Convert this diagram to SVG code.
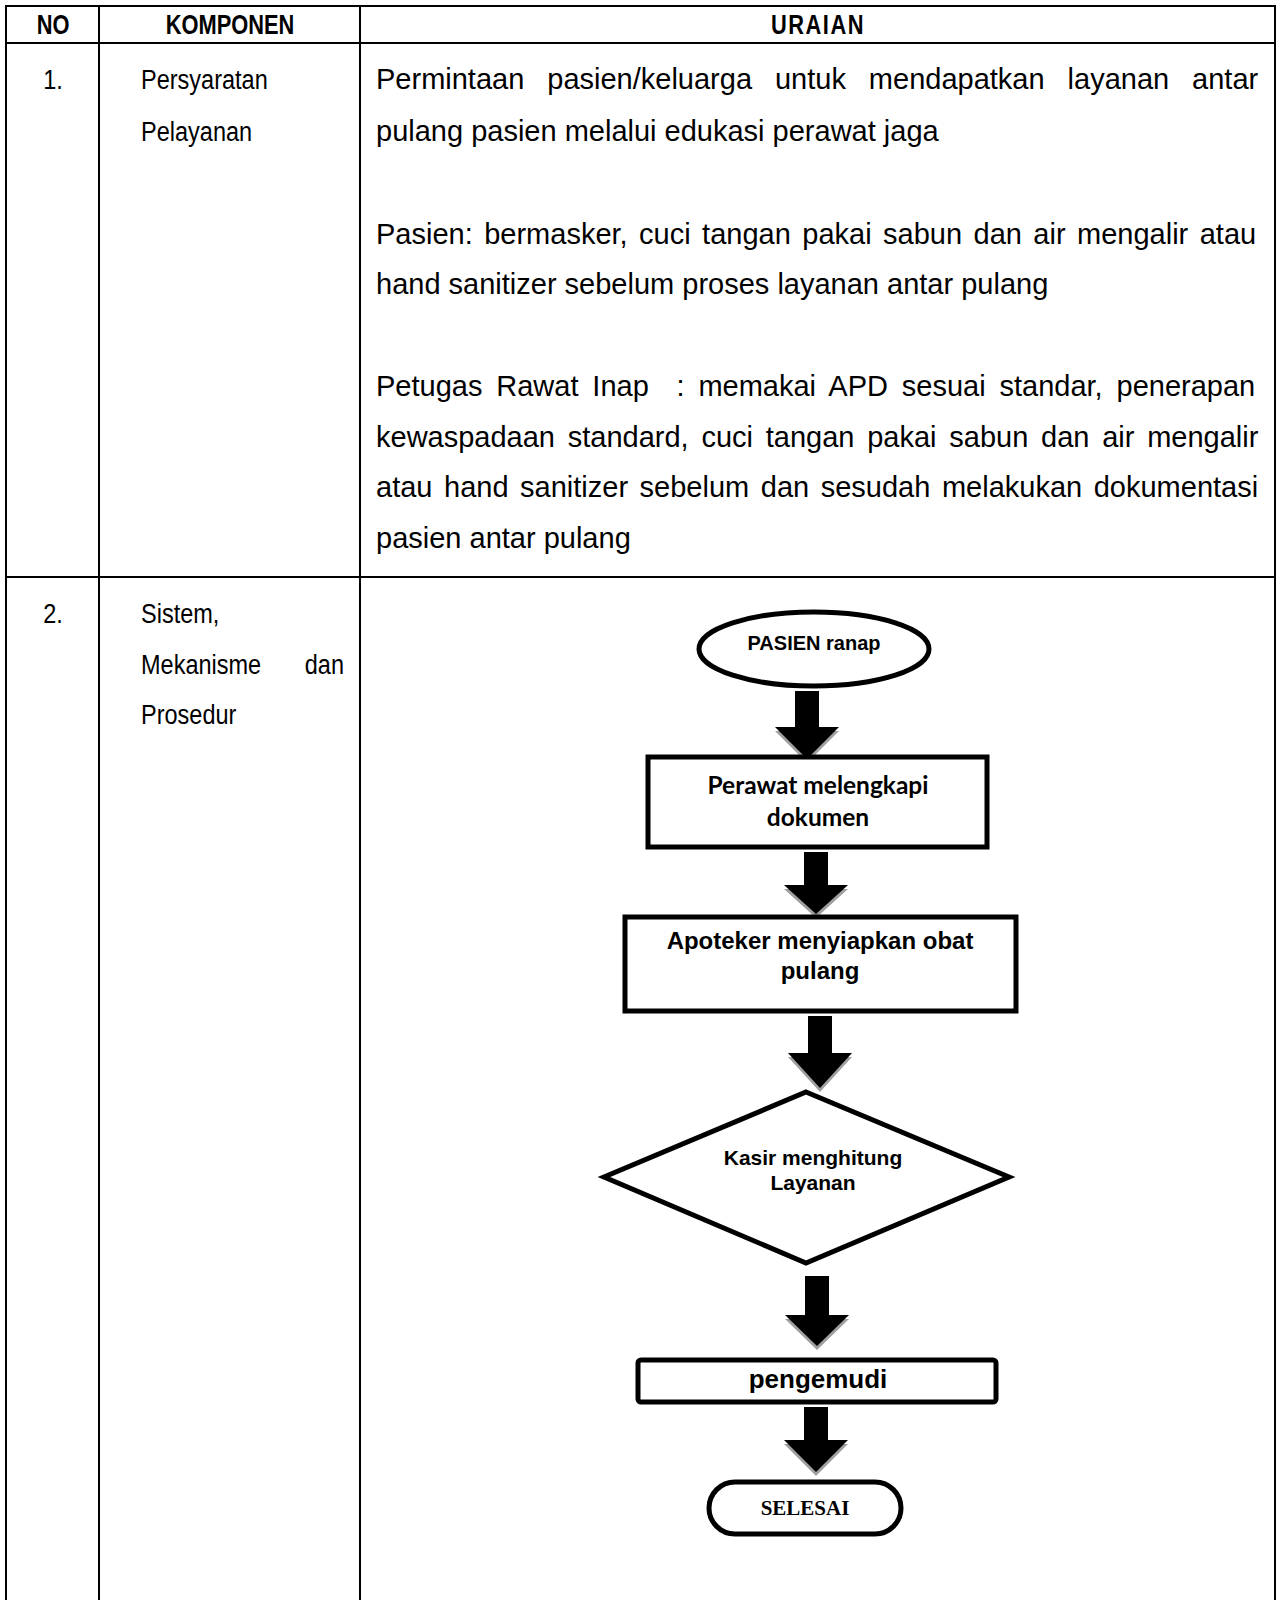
<svg xmlns="http://www.w3.org/2000/svg" width="1278" height="1600" viewBox="0 0 1278 1600">
  <style>
    .grid { stroke: #000; stroke-width: 2; fill: none; }
    .hdr { font-family: "Liberation Sans", Arial, sans-serif; font-weight: bold; font-size: 28px; fill: #000; text-anchor: middle; }
    .cell { font-family: "Liberation Sans", Arial, sans-serif; font-size: 28px; fill: #000; }
    .body { font-family: "Liberation Sans", Arial, sans-serif; font-size: 29px; fill: #000; }
    .shape { fill: #fff; stroke: #000; stroke-width: 5; }
    .lbl { font-family: "Liberation Sans", Arial, sans-serif; font-weight: bold; fill: #000; text-anchor: middle; }
    .lbl-c { font-family: Lato, "Liberation Sans", sans-serif; font-weight: bold; fill: #000; text-anchor: middle; }
    .lbl-s { font-family: "Liberation Serif", "Times New Roman", serif; font-weight: bold; fill: #000; text-anchor: middle; }
    .arrow { fill: #000; }
    .arrow-shadow { fill: #a0a0a0; }
  </style>

  <rect width="1278" height="1600" fill="#fff"/>

  <!-- table grid -->
  <g id="table">
    <line class="grid" x1="6" y1="6" x2="1275" y2="6"/>
    <line class="grid" x1="6" y1="43" x2="1275" y2="43"/>
    <line class="grid" x1="6" y1="577" x2="1275" y2="577"/>
    <line class="grid" x1="6" y1="5" x2="6" y2="1600"/>
    <line class="grid" x1="99" y1="6" x2="99" y2="1600"/>
    <line class="grid" x1="360" y1="6" x2="360" y2="1600"/>
    <line class="grid" x1="1275" y1="5" x2="1275" y2="1600"/>
  </g>

  <!-- header row (narrow bold face) -->
  <g id="header">
    <text class="hdr" transform="translate(53 34) scale(0.78 1)">NO</text>
    <text class="hdr" transform="translate(230 34) scale(0.78 1)">KOMPONEN</text>
    <text class="hdr" letter-spacing="2" transform="translate(818 34) scale(0.78 1)">URAIAN</text>
  </g>

  <!-- row 1 -->
  <g id="row1">
    <text class="cell" text-anchor="middle" transform="translate(53 89) scale(0.84 1)">1.</text>
    <text class="cell" transform="translate(141 89) scale(0.84 1)">Persyaratan</text>
    <text class="cell" transform="translate(141 141) scale(0.84 1)">Pelayanan</text>

    <text class="body" x="376" y="89" word-spacing="14.9">Permintaan pasien/keluarga untuk mendapatkan layanan antar</text>
    <text class="body" x="376" y="141">pulang pasien melalui edukasi perawat jaga</text>

    <text class="body" x="376" y="244" word-spacing="3.4">Pasien: bermasker, cuci tangan pakai sabun dan air mengalir atau</text>
    <text class="body" x="376" y="294">hand sanitizer sebelum proses layanan antar pulang</text>

    <text class="body" x="376" y="396" word-spacing="5.8" xml:space="preserve">Petugas Rawat Inap  : memakai APD sesuai standar, penerapan</text>
    <text class="body" x="376" y="447" word-spacing="4.7">kewaspadaan standard, cuci tangan pakai sabun dan air mengalir</text>
    <text class="body" x="376" y="497" word-spacing="3.5">atau hand sanitizer sebelum dan sesudah melakukan dokumentasi</text>
    <text class="body" x="376" y="548">pasien antar pulang</text>
  </g>

  <!-- row 2 -->
  <g id="row2">
    <text class="cell" text-anchor="middle" transform="translate(53 623) scale(0.84 1)">2.</text>
    <text class="cell" transform="translate(141 623) scale(0.84 1)">Sistem,</text>
    <text class="cell" transform="translate(141 674) scale(0.84 1)">Mekanisme</text>
    <text class="cell" text-anchor="end" transform="translate(344 674) scale(0.84 1)">dan</text>
    <text class="cell" transform="translate(141 724) scale(0.84 1)">Prosedur</text>
  </g>

  <!-- flow connectors: block arrows with a soft grey drop edge -->
  <g id="connectors">
    <polygon class="arrow-shadow" transform="translate(0,4)" points="795,691 819,691 819,727 839,727 807,759 775,727 795,727"/>
    <polygon class="arrow" points="795,691 819,691 819,727 839,727 807,759 775,727 795,727"/>

    <polygon class="arrow-shadow" transform="translate(0,4)" points="804,852 828,852 828,885 848,885 816,914 784,885 804,885"/>
    <polygon class="arrow" points="804,852 828,852 828,885 848,885 816,914 784,885 804,885"/>

    <polygon class="arrow-shadow" transform="translate(0,4)" points="808,1016 832,1016 832,1053 852,1053 820,1088 788,1053 808,1053"/>
    <polygon class="arrow" points="808,1016 832,1016 832,1053 852,1053 820,1088 788,1053 808,1053"/>

    <polygon class="arrow-shadow" transform="translate(0,4)" points="805,1276 829,1276 829,1315 849,1315 817,1346 785,1315 805,1315"/>
    <polygon class="arrow" points="805,1276 829,1276 829,1315 849,1315 817,1346 785,1315 805,1315"/>

    <polygon class="arrow-shadow" transform="translate(0,4)" points="804,1407 828,1407 828,1440 848,1440 816,1472 784,1440 804,1440"/>
    <polygon class="arrow" points="804,1407 828,1407 828,1440 848,1440 816,1472 784,1440 804,1440"/>
  </g>

  <!-- flowchart nodes -->
  <g id="node-pasien">
    <ellipse class="shape" cx="814" cy="649" rx="115" ry="37"/>
    <text class="lbl" x="814" y="650" font-size="20">PASIEN ranap</text>
  </g>

  <g id="node-perawat">
    <rect class="shape" x="648" y="757" width="339" height="90"/>
    <text class="lbl-c" x="818" y="794" font-size="24.5">Perawat melengkapi</text>
    <text class="lbl-c" x="818" y="826" font-size="24.5">dokumen</text>
  </g>

  <g id="node-apoteker">
    <rect class="shape" x="625" y="917" width="391" height="94"/>
    <text class="lbl" x="820" y="949" font-size="24">Apoteker menyiapkan obat</text>
    <text class="lbl" x="820" y="979" font-size="24">pulang</text>
  </g>

  <g id="node-kasir">
    <polygon class="shape" points="806,1092 1009,1177 806,1263 604,1177"/>
    <text class="lbl" x="813" y="1165" font-size="21">Kasir menghitung</text>
    <text class="lbl" x="813" y="1190" font-size="21">Layanan</text>
  </g>

  <g id="node-pengemudi">
    <rect class="shape" x="638" y="1360" width="358" height="42" rx="3"/>
    <text class="lbl" x="818" y="1388" font-size="26">pengemudi</text>
  </g>

  <g id="node-selesai">
    <rect class="shape" x="709" y="1482" width="192" height="52" rx="26"/>
    <text class="lbl-s" x="805" y="1515" font-size="21">SELESAI</text>
  </g>
</svg>
